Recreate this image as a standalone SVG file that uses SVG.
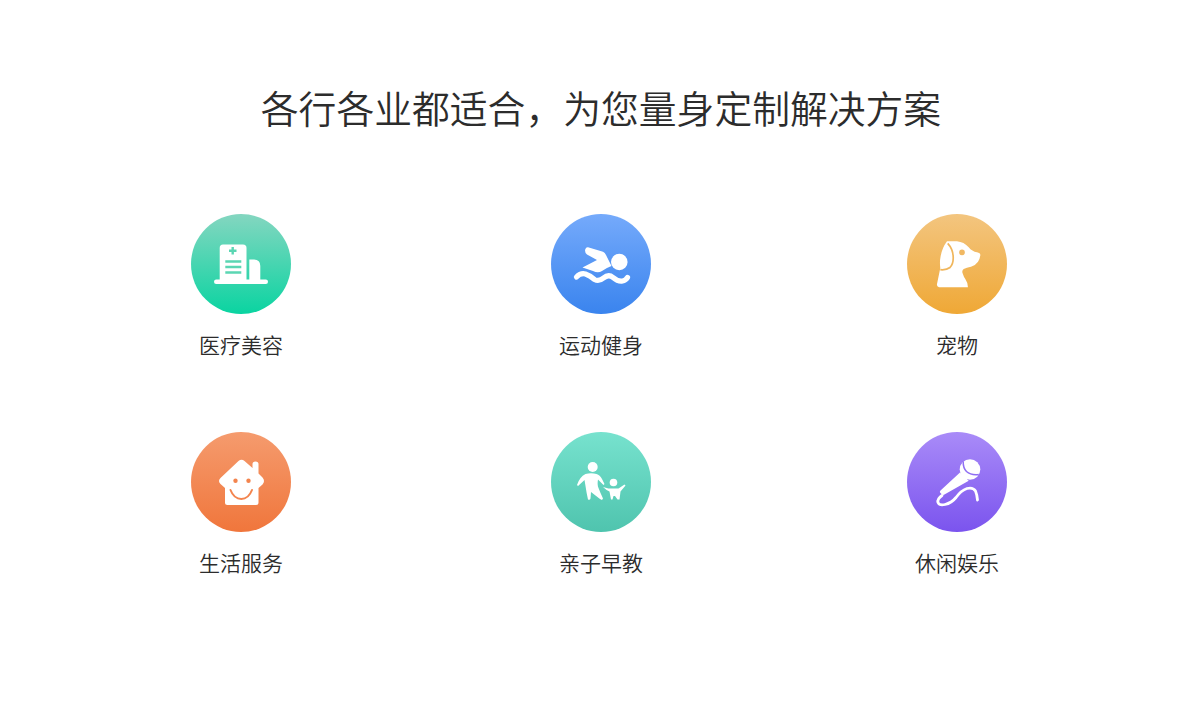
<svg xmlns="http://www.w3.org/2000/svg" width="1201" height="715" viewBox="0 0 1201 715">
<style>
text{font-family:"Noto Sans CJK SC","Liberation Sans",sans-serif;fill:#2c2c2c;text-anchor:middle;font-weight:350}
.t{font-size:37.8px}
.l{font-size:21px}
.w{fill:#fff}
.s{fill:none;stroke:#fff;stroke-linecap:round;stroke-linejoin:round}
</style>
<defs>
<linearGradient id="g1" x1="0" y1="0" x2="0" y2="1"><stop offset="0" stop-color="#84d6c0"/><stop offset="1" stop-color="#0ad4a1"/></linearGradient>
<linearGradient id="g2" x1="0" y1="0" x2="0" y2="1"><stop offset="0" stop-color="#75aafb"/><stop offset="1" stop-color="#3a84ee"/></linearGradient>
<linearGradient id="g3" x1="0" y1="0" x2="0" y2="1"><stop offset="0" stop-color="#f3c57f"/><stop offset="1" stop-color="#efa836"/></linearGradient>
<linearGradient id="g4" x1="0" y1="0" x2="0" y2="1"><stop offset="0" stop-color="#f59b6e"/><stop offset="1" stop-color="#f0763c"/></linearGradient>
<linearGradient id="g5" x1="0" y1="0" x2="0" y2="1"><stop offset="0" stop-color="#77e2ce"/><stop offset="1" stop-color="#4fc4ae"/></linearGradient>
<linearGradient id="g6" x1="0" y1="0" x2="0" y2="1"><stop offset="0" stop-color="#a98bf8"/><stop offset="1" stop-color="#7b54ee"/></linearGradient>
</defs>
<rect width="1201" height="715" fill="#fff"/>
<text class="t" x="601" y="122.500">各行各业都适合，为您量身定制解决方案</text>
<g id="connectors"></g>

<g id="node-medical">
<circle cx="241" cy="264" r="50" fill="url(#g1)"/>
<path class="w" d="M223 244.500H243Q246.500 244.500 246.500 248V280H219.700V248Q219.700 244.500 223 244.500Z"/>
<path class="w" d="M249.300 259.500H254Q260.300 259.500 260.300 266V280H249.300Z"/>
<rect class="w" x="214" y="279.500" width="54" height="4.500" rx="2.200"/>
<path d="M232.700 247V254.500M229 250.700H236.500" stroke="#5bd6b3" stroke-width="2.400" fill="none"/>
<path d="M225.300 261.500H241.300M225.300 267H241.300M225.300 272.500H241.300" stroke="#5bd6b3" stroke-width="2.400" fill="none"/>
<text class="l" x="241" y="353">医疗美容</text>
</g>

<g id="node-sports">
<circle cx="601" cy="264" r="50" fill="url(#g2)"/>
<circle class="w" cx="619.300" cy="262" r="8.300"/>
<path class="w" d="M588 247.300L603 251.800Q605 252.700 606 255L611.500 266Q606 268 602 271Q598 273.500 593 271L582.500 267.500L597 260L587 254.500Q584.500 252.500 585.200 249.500Q586 247 588 247.300Z"/>
<path class="s" stroke-width="5.200" d="M576.500 277Q580.500 272.800 585.500 274Q590 275.500 594.500 279.500Q599 281.800 603.500 278Q608.500 273.800 613 277.500Q618 281.800 622.500 281Q625.500 280.500 627.500 277.500"/>
<text class="l" x="601" y="353">运动健身</text>
</g>

<g id="node-pet">
<circle cx="957" cy="264" r="50" fill="url(#g3)"/>
<path class="w" d="M947 241.300H957Q964 242 968.700 247.300Q972 251.500 977 252.300Q980.800 253.200 980.300 255.500Q979.800 259 978 261.800Q975.500 265.500 971 266.800Q966.500 267.500 963.700 269Q961.500 271 962.700 273.500Q963.800 277 965.300 279Q968 283 967.900 287.300H939Q936.500 286.800 937 284L940.300 268Q939.500 262 940.500 257Q942 248 947 241.300Z"/>
<path d="M947.700 243.300Q953 249 953.200 257Q953.500 264 950 267.500Q946.500 270.300 940.300 269.700" fill="none" stroke="#f0b65c" stroke-width="1.700"/>
<circle cx="962" cy="252.400" r="2.800" fill="#f1b862"/>
<text class="l" x="957" y="353">宠物</text>
</g>

<g id="node-life">
<circle cx="241" cy="482" r="50" fill="url(#g4)"/>
<path class="w" d="M238.500 461Q241.500 458.500 244.500 461L252.500 468V464Q252.500 461.500 255.500 461.500Q258.500 461.500 258.500 464V473.500L262.500 477.500Q265.500 481 262.500 484.500L258.500 488V502.500Q258.500 505 256 505H227.500Q225 505 225 502.500V488L220.500 484Q217.500 481 220.500 478Z"/>
<circle cx="235.500" cy="480.800" r="2.200" fill="#f3844e"/>
<circle cx="248.500" cy="480.800" r="2.200" fill="#f3844e"/>
<path d="M230.500 490Q234 499 241.300 499Q248.500 499 252 490" fill="none" stroke="#f3844e" stroke-width="2" stroke-linecap="round"/>
<text class="l" x="241" y="571">生活服务</text>
</g>

<g id="node-kids">
<circle cx="601" cy="482" r="50" fill="url(#g5)"/>
<circle class="w" cx="592.700" cy="467" r="5"/>
<path class="w" d="M585.500 474Q591 472.500 596.500 474Q600 475 602 479L604.500 484L603.500 485L598 479.500Q597 485 598.500 488Q600 492 603 498.500L602 500L600 499L591 492L590.500 498.500Q590 500.500 588 499.500Q586.500 493 585.500 486L584.500 480L578 486L577 485Q579.500 477 585.500 474Z"/>
<circle class="w" cx="613.500" cy="482.500" r="3.800"/>
<path class="w" d="M603 487L608.500 488.500H618.500L624.500 484.500L625.500 485.500L620.500 491.500L619.500 499.500L617.500 499.500L615 496L613.500 496L612.500 499.500H611L609.500 491.500Q606 490 603 487Z"/>
<text class="l" x="601" y="571">亲子早教</text>
</g>

<g id="node-leisure">
<circle cx="957" cy="482" r="50" fill="url(#g6)"/>
<path class="w" d="M960 472.500L968.700 480.800L944 494.800Q942.500 495.300 941.500 494L940 492.500Q939.500 491.500 940.500 490.500Z"/>
<circle class="w" cx="970" cy="469.500" r="10.300"/>
<path d="M963.200 461.500Q963 468 966.500 471.500Q971 475.500 978.700 474.500" stroke="#8f6ef3" stroke-width="1.500" fill="none"/>
<path class="s" stroke-width="2.800" d="M942 495.500Q937 499 938 502.500Q939.500 505.800 945 504.500Q951.500 503 956 497.500Q961 490.500 967 488.500Q973 487 975.500 491Q977 494.500 977.500 500"/>
<text class="l" x="957" y="571">休闲娱乐</text>
</g>
</svg>
